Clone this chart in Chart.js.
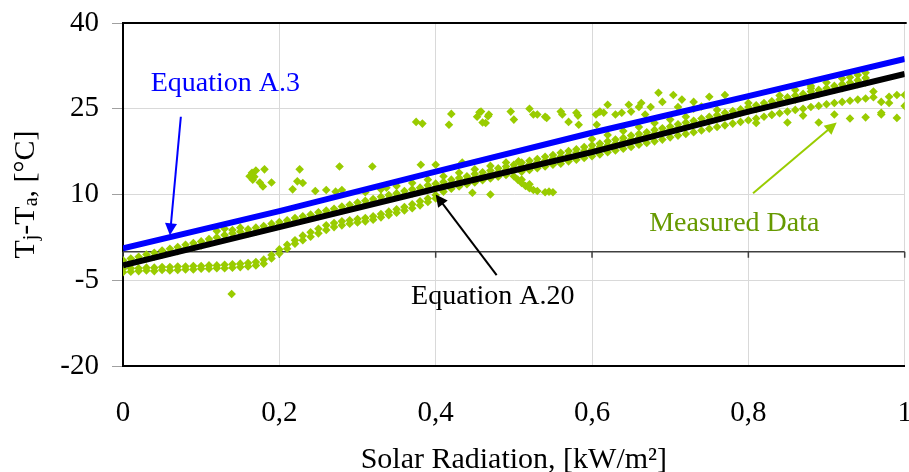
<!DOCTYPE html>
<html>
<head>
<meta charset="utf-8">
<script src="https://cdn.jsdelivr.net/npm/chart.js@4.4.0/dist/chart.umd.min.js"></script>
<style>
  html, body { margin: 0; padding: 0; background: #fff; }
</style>
</head>
<body>
<canvas id="grafico" width="909" height="472"></canvas>
<script>
// ticks
const xTicks = [0, 0.2, 0.4, 0.6, 0.8, 1];
const xTickLabels = ['0', '0,2', '0,4', '0,6', '0,8', '1'];
const yTicks = [-20, -5, 10, 25, 40];
const yTickLabels = ['-20', '-5', '10', '25', '40'];

// Equation A.3 and Equation A.20
const eqA3X = [0, 0.2, 0.4, 0.6, 0.8, 1];
const eqA3Y = [0.6, 7.1, 14.0, 20.8, 27.2, 33.7];
const eqA20X = [0, 0.2, 0.4, 0.6, 0.8, 1];
const eqA20Y = [-2.4, 4.3, 11.0, 17.4, 24.5, 31.1];

// measured data, main band: [radiation, dT values...]
const bandRows = [
  [0.00,-1.5,-2.0,-3.0,-3.6],[0.01,-1.2,-1.8,-2.9,-3.5],[0.02,-0.9,-1.5,-2.9,-3.4],
  [0.03,-0.5,-1.2,-2.8,-3.3],[0.04,-0.2,-0.9,-2.8,-3.4],[0.05,0.2,-0.5,-2.7,-3.2],
  [0.06,0.5,-0.2,-2.7,-3.3],[0.07,0.8,0.1,-2.6,-3.2],[0.08,1.2,0.5,-2.6,-3.1],
  [0.09,1.5,0.8,-2.5,-3.1],[0.10,1.8,1.1,-2.5,-3.0],[0.11,2.2,1.5,-2.4,-3.0],
  [0.12,2.5,3.6,-2.4,-2.9],[0.13,2.9,4.0,-2.3,-2.9],[0.14,3.2,3.8,-2.2,-2.8],
  [0.15,3.5,4.2,-2.1,-2.7],[0.16,3.9,3.2,-2.0,-2.6],[0.17,4.2,3.5,-1.8,-2.4],
  [0.18,4.5,3.9,-1.4,-2.1],[0.19,4.9,4.2,-0.6,-1.2],[0.20,5.2,4.6,0.4,-0.3],
  [0.21,5.5,4.9,1.2,0.5],[0.22,5.9,5.2,2.0,1.4],[0.23,6.2,5.6,2.8,2.0],
  [0.24,6.5,5.9,3.4,2.6],[0.25,6.9,6.2,4.0,3.2],[0.26,7.2,6.6,4.6,3.8],
  [0.27,7.5,6.9,5.0,4.3],[0.28,7.9,7.2,5.3,4.6],[0.29,8.2,7.6,5.5,4.9],
  [0.30,8.6,7.9,5.7,5.1],[0.31,8.9,8.2,5.9,5.3],[0.32,9.2,8.6,6.2,5.6],
  [0.33,9.6,8.9,6.6,6.0],[0.34,9.9,9.2,7.0,6.4],[0.35,10.2,9.6,7.4,6.8],
  [0.36,10.6,9.9,7.8,7.2],[0.37,10.9,10.2,8.3,7.6],[0.38,11.2,10.6,8.8,8.1],
  [0.39,11.6,10.9,9.3,8.7],[0.40,11.9,11.2,9.9,9.3],
  [0.41,12.2,11.6,10.5],[0.42,12.6,11.9,11.0],[0.43,12.9,12.2,11.4],
  [0.44,13.2,12.6,11.8],[0.45,13.6,12.9,12.1],[0.46,13.9,13.3,12.5],
  [0.47,14.2,13.6,12.8],[0.48,14.6,13.9,13.1],[0.49,14.9,14.3,13.4],
  [0.50,15.2,14.6,13.2],[0.51,15.6,14.9,14.0],[0.52,15.9,15.3,14.3],
  [0.53,16.2,15.6,14.6],[0.54,16.6,15.9,14.9],[0.55,16.9,16.3,15.2],
  [0.56,17.3,16.6,15.4],[0.57,17.6,16.9,15.8],[0.58,17.9,17.3,16.1],
  [0.59,18.3,17.6,16.4],[0.60,18.6,17.9,16.7],[0.61,18.9,18.3,17.0],
  [0.62,19.3,18.6,17.4],[0.63,19.6,18.9,17.7],[0.64,19.9,19.3,18.0],
  [0.65,20.3,19.6,18.3],[0.66,20.6,19.9,18.7],[0.67,20.9,20.3,19.0],
  [0.68,21.3,20.6,19.3],[0.69,21.6,20.9,19.6],[0.70,21.9,21.3,20.0],
  [0.71,22.3,21.6,20.3],[0.72,22.6,21.9,20.6],[0.73,22.9,22.3,20.9],
  [0.74,23.3,22.6,21.2],[0.75,23.6,22.9,21.5],[0.76,23.9,23.3,21.8],
  [0.77,24.3,23.6,22.1],[0.78,24.6,23.9,22.4],[0.79,24.9,24.3,22.7],
  [0.80,25.3,24.6,23.0],[0.81,25.6,24.9,23.3],[0.82,26.0,25.3,23.6],
  [0.83,26.3,25.6,23.9],[0.84,26.6,26.0,24.2],[0.85,27.0,26.3,24.5],
  [0.86,27.3,26.6,24.8],[0.87,27.6,27.0,25.0],[0.88,28.0,27.3,25.3],
  [0.89,28.3,27.6,25.5],[0.90,28.6,28.0,25.8],[0.91,29.0,28.3,26.0],
  [0.92,29.3,28.6,26.2],[0.93,29.6,29.0,26.4],[0.94,30.0,29.3,26.6],
  [0.95,30.4,29.6,26.8]
];

// measured data, scattered points: [radiation, dT]
const scatterPoints = [
  [0.139,-7.4],
  [0.165,13.8],[0.168,13.1],[0.166,12.6],[0.175,12.1],[0.179,11.4],[0.181,14.4],[0.19,12.1],[0.17,14.2],[0.162,13.2],
  [0.226,14.4],[0.223,12.3],[0.217,10.9],[0.23,12.0],
  [0.246,10.6],[0.26,10.8],[0.272,10.5],[0.28,10.8],[0.277,14.9],[0.319,14.9],[0.337,11.2],
  [0.31,10.4],[0.33,10.9],[0.35,11.5],[0.37,12.0],[0.39,12.6],[0.41,13.2],[0.43,13.8],[0.45,14.4],[0.47,15.0],[0.49,15.6],
  [0.375,22.7],[0.383,22.4],[0.381,15.2],[0.40,15.2],[0.417,22.2],[0.42,24.1],[0.434,15.6],[0.447,10.3],
  [0.453,23.6],[0.456,24.4],[0.464,22.5],[0.467,23.7],[0.458,24.5],[0.468,24.0],[0.46,22.6],[0.47,10.0],
  [0.496,24.5],[0.5,23.1],[0.506,15.8],[0.52,25.0],[0.525,24.0],[0.53,24.0],[0.54,23.6],[0.542,23.4],
  [0.56,24.5],[0.562,24.0],[0.57,22.7],[0.58,24.3],[0.582,23.8],[0.583,22.2],[0.605,24.0],[0.61,24.5],
  [0.606,22.2],[0.615,24.3],[0.62,25.7],[0.63,24.0],[0.638,24.3],[0.647,25.7],[0.65,24.5],[0.66,25.3],
  [0.663,26.0],[0.668,24.0],[0.675,25.3],[0.685,27.8],[0.69,26.2],[0.704,27.4],[0.71,25.3],[0.715,26.6],
  [0.73,26.2],[0.73,25.0],[0.75,27.1],[0.77,27.4],[0.74,25.4],
  [0.505,12.6],[0.51,12.0],[0.515,11.5],[0.52,11.1],[0.525,10.8],[0.53,10.6],[0.54,10.4],[0.55,10.4],[0.545,10.5],[0.51,12.6],[0.52,11.8],
  [0.6,19.7],[0.62,20.4],[0.64,21.1],[0.66,21.8],[0.68,22.5],[0.7,23.1],[0.72,23.6],[0.76,24.8],[0.8,26.0],[0.84,27.3],[0.88,28.6],
  [0.86,28.3],[0.88,29.0],[0.9,29.6],[0.92,30.3],[0.93,30.5],[0.94,30.9],[0.95,31.3],
  [0.81,22.5],[0.85,22.6],[0.89,22.6],[0.93,23.3],[0.95,23.5],[0.97,24.0],[0.99,23.4],[0.91,24.0],[0.87,23.8],[0.83,24.0],
  [0.96,27.0],[0.97,26.2],[0.98,27.1],[0.99,27.4],[1.0,25.5],[0.97,24.3],[0.96,28.0],[0.98,26.0],[1.0,27.4]
];

const measured = [];
bandRows.forEach(r => r.slice(1).forEach(v => measured.push({ x: r[0], y: v })));
scatterPoints.forEach(p => measured.push({ x: p[0], y: p[1] }));

const serif = '"Liberation Serif", "Times New Roman", serif';
Chart.defaults.font.family = serif;
Chart.defaults.color = '#000';

// seta simples
const seta = (ctx, x1, y1, x2, y2, cor) => {
  const ang = Math.atan2(y2 - y1, x2 - x1);
  const len = 12, half = 6;
  ctx.strokeStyle = cor;
  ctx.fillStyle = cor;
  ctx.lineWidth = 2;
  ctx.beginPath();
  ctx.moveTo(x1, y1);
  ctx.lineTo(x2 - Math.cos(ang) * len * 0.8, y2 - Math.sin(ang) * len * 0.8);
  ctx.stroke();
  ctx.beginPath();
  ctx.moveTo(x2, y2);
  ctx.lineTo(x2 - Math.cos(ang) * len + Math.sin(ang) * half, y2 - Math.sin(ang) * len - Math.cos(ang) * half);
  ctx.lineTo(x2 - Math.cos(ang) * len - Math.sin(ang) * half, y2 - Math.sin(ang) * len + Math.cos(ang) * half);
  ctx.closePath();
  ctx.fill();
};

const extras = {
  id: 'extras',
  beforeDatasetsDraw(chart) {
    const { ctx, chartArea: a, scales: { x, y } } = chart;
    const y0 = y.getPixelForValue(0);
    ctx.save();
    ctx.strokeStyle = '#404040';
    ctx.lineWidth = 1.5;
    ctx.beginPath();
    ctx.moveTo(a.left, y0);
    ctx.lineTo(a.right, y0);
    xTicks.forEach(v => {
      const px = x.getPixelForValue(v);
      ctx.moveTo(px, y0);
      ctx.lineTo(px, y0 + 6);
    });
    ctx.stroke();
    ctx.restore();
  },
  afterDraw(chart) {
    const { ctx, chartArea: a, scales: { x, y } } = chart;
    ctx.save();
    // borda de cima
    ctx.strokeStyle = '#000';
    ctx.lineWidth = 2;
    ctx.beginPath();
    ctx.moveTo(a.left - 1, a.top);
    ctx.lineTo(a.right + 2, a.top);
    ctx.stroke();

    // titulo do eixo y com subscritos
    const big = '30px ' + serif, small = '20px ' + serif;
    const partes = [['T', big, 0], ['j', small, 6], ['-T', big, 0], ['a', small, 6], [', [°C]', big, 0]];
    let total = 0;
    partes.forEach(p => { ctx.font = p[1]; total += ctx.measureText(p[0]).width; });
    ctx.translate(26, (a.top + a.bottom) / 2);
    ctx.rotate(-Math.PI / 2);
    ctx.textBaseline = 'middle';
    ctx.fillStyle = '#000';
    let pos = -total / 2;
    partes.forEach(p => {
      ctx.font = p[1];
      ctx.fillText(p[0], pos, p[2]);
      pos += ctx.measureText(p[0]).width;
    });
    ctx.restore();

    // anotacoes
    ctx.save();
    ctx.font = '28px ' + serif;
    ctx.textAlign = 'center';
    ctx.textBaseline = 'alphabetic';
    ctx.fillStyle = '#0000ff';
    ctx.fillText('Equation A.3', x.getPixelForValue(0.131), y.getPixelForValue(28.1));
    seta(ctx, x.getPixelForValue(0.074), y.getPixelForValue(23.6), x.getPixelForValue(0.06), y.getPixelForValue(2.85), '#0000ff');
    ctx.fillStyle = '#000';
    ctx.fillText('Equation A.20', x.getPixelForValue(0.473), y.getPixelForValue(-9.2));
    seta(ctx, x.getPixelForValue(0.478), y.getPixelForValue(-4.1), x.getPixelForValue(0.40), y.getPixelForValue(10.0), '#000');
    ctx.fillStyle = '#669900';
    ctx.fillText('Measured Data', x.getPixelForValue(0.782), y.getPixelForValue(3.7));
    seta(ctx, x.getPixelForValue(0.806), y.getPixelForValue(10.2), x.getPixelForValue(0.913), y.getPixelForValue(22.6), '#99cc00');
    ctx.restore();
  }
};

new Chart(document.getElementById('grafico'), {
  type: 'scatter',
  data: {
    datasets: [
      {
        type: 'line',
        label: 'Equation A.3',
        data: eqA3X.map((v, i) => ({ x: v, y: eqA3Y[i] })),
        borderColor: '#0000ff',
        borderWidth: 6,
        pointRadius: 0,
        tension: 0
      },
      {
        type: 'line',
        label: 'Equation A.20',
        data: eqA20X.map((v, i) => ({ x: v, y: eqA20Y[i] })),
        borderColor: '#000000',
        borderWidth: 6,
        pointRadius: 0,
        tension: 0
      },
      {
        label: 'Measured Data',
        data: measured,
        backgroundColor: '#99cc00',
        borderColor: '#99cc00',
        borderWidth: 0,
        pointStyle: 'rectRot',
        pointRadius: 4.3
      }
    ]
  },
  options: {
    responsive: false,
    animation: false,
    layout: { padding: { left: 0, right: 2, top: 23, bottom: 0 } },
    plugins: { legend: { display: false }, tooltip: { enabled: false } },
    scales: {
      x: {
        type: 'linear',
        min: 0,
        max: 1,
        afterBuildTicks: s => { s.ticks = xTicks.map(v => ({ value: v })); },
        afterFit: s => { s.height = 106; s.paddingLeft = 0; s.paddingRight = 0; },
        ticks: {
          callback: (v, i) => xTickLabels[i],
          font: { size: 29 },
          padding: 30,
          maxRotation: 0
        },
        grid: { color: '#d9d9d9', lineWidth: 1, drawTicks: false },
        border: { color: '#000', width: 2 },
        title: {
          display: true,
          text: 'Solar Radiation, [kW/m²]',
          font: { size: 30 },
          padding: { top: 0, bottom: -6 }
        }
      },
      y: {
        min: -20,
        max: 40,
        afterBuildTicks: s => { s.ticks = yTicks.map(v => ({ value: v })); },
        afterFit: s => { s.width = 123; s.paddingTop = 0; s.paddingBottom = 0; },
        ticks: {
          callback: (v, i) => yTickLabels[i],
          font: { size: 29 },
          padding: 13
        },
        grid: { color: '#d9d9d9', lineWidth: 1, tickLength: 11, tickColor: '#a0a0a0' },
        border: { color: '#000', width: 2 }
      }
    }
  },
  plugins: [extras]
});
</script>
</body>
</html>
